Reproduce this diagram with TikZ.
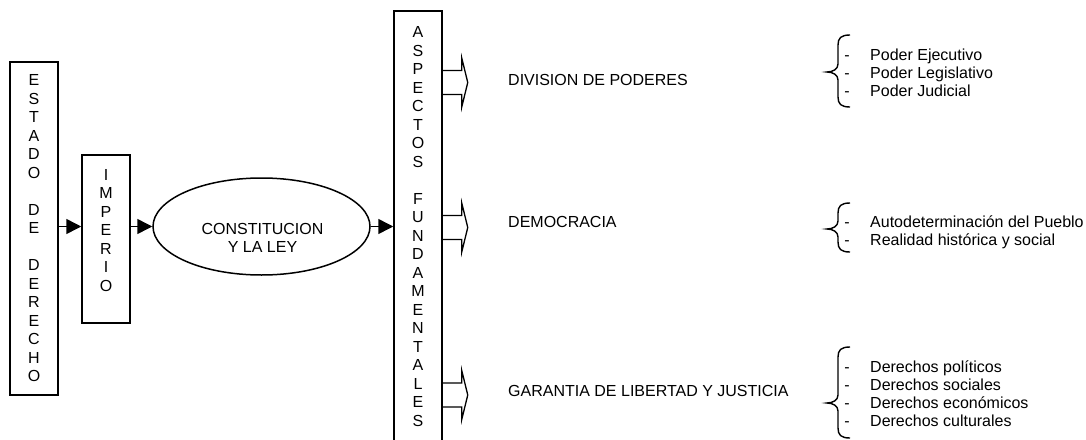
\documentclass[tikz,border=0pt]{standalone}
\usepackage{fontspec}
\setmainfont{Liberation Sans}
\usetikzlibrary{arrows.meta,shapes.geometric}
\begin{document}
\begin{tikzpicture}[x=1pt,y=-1pt,
  every node/.style={font=\fontsize{16}{18.5}\selectfont, inner sep=0pt},
  boxnode/.style={draw, line width=1.5pt, minimum width=48pt, inner sep=0pt},
  letters/.style={align=center},
  conn/.style={line width=1.5pt, -{Triangle[length=15pt,width=15pt]}},
  hollow/.style={line width=1.3pt, line join=miter},
  bracepath/.style={line width=1.4pt},
  itemtext/.style={anchor=base west},
  dashtext/.style={anchor=base}]
\useasboundingbox (0,0) rectangle (1086,439);

% left boxes
\node[boxnode, minimum height=333pt, letters] (estado) at (34,228.5)
  {E\\S\\T\\A\\D\\O\\[18.5pt]D\\E\\[18.5pt]D\\E\\R\\E\\C\\H\\O};
\node[boxnode, minimum height=168pt] (imperio) at (106,239) {};
\node[letters] (imperiotext) at (106,230.5) {I\\M\\P\\E\\R\\I\\O};

% ellipse
\node[draw, ellipse, line width=1.5pt, minimum width=217pt, minimum height=97pt] (const) at (261.5,226.5) {};
\node[align=center] (consttext) at (262.5,238) {CONSTITUCION\\Y LA LEY};

% tall box
\node[boxnode, minimum height=450pt] (aspectos) at (418,236) {};
\node[letters] (aspectostext) at (418,226.5)
  {A\\S\\P\\E\\C\\T\\O\\S\\[18.5pt]F\\U\\N\\D\\A\\M\\E\\N\\T\\A\\L\\E\\S};

% connectors
\draw[conn] (estado.east |- const.center) -- (imperio.west |- const.center);
\draw[conn] (imperio.east |- const.center) -- (const.west);
\draw[conn] (const.east) -- (aspectos.west |- const.center);

% hollow arrows
\foreach \n/\y in {1/82.5, 2/227.5, 3/395} {
  \coordinate (h\n) at (aspectos.east |- 0,\y);
  \draw[hollow] (h\n) ++(0,-12) -- ++(19,0) -- ++(0,-12.5) -- ++(6,24.5)
     -- ++(-6,24.5) -- ++(0,-12.5) -- ++(-19,0);
}

% aspect labels
\node[anchor=west] (div) at (508,80) {DIVISION DE PODERES};
\node[anchor=west] (dem) at (508,222) {DEMOCRACIA};
\node[anchor=west] (gar) at (508,391) {GARANTIA DE LIBERTAD Y JUSTICIA};

% braces
\foreach \t/\m/\b in {35/72/107, 203/229/252, 347/403/438} {
  \draw[bracepath] (850,\t) .. controls (841,\t) and (838,\t+3) .. (838,\t+10)
    -- (838,\m-8) .. controls (838,\m-3) and (833,\m) .. (827,\m)
    .. controls (833,\m) and (838,\m+3) .. (838,\m+8)
    -- (838,\b-10) .. controls (838,\b-3) and (841,\b) .. (850,\b);
}

% lists
\foreach \y/\txt [count=\i] in {55/Poder Ejecutivo, 73/Poder Legislativo, 91/Poder Judicial,
   222/Autodeterminación del Pueblo, 240/Realidad histórica y social,
   367/Derechos políticos, 385/Derechos sociales, 403/Derechos económicos, 421/Derechos culturales} {
  \node[dashtext] (dash\i) at (847,\y+5.5) {-};
  \node[itemtext] (item\i) at (870,\y+5.5) {\txt};
}
\end{tikzpicture}
\end{document}
